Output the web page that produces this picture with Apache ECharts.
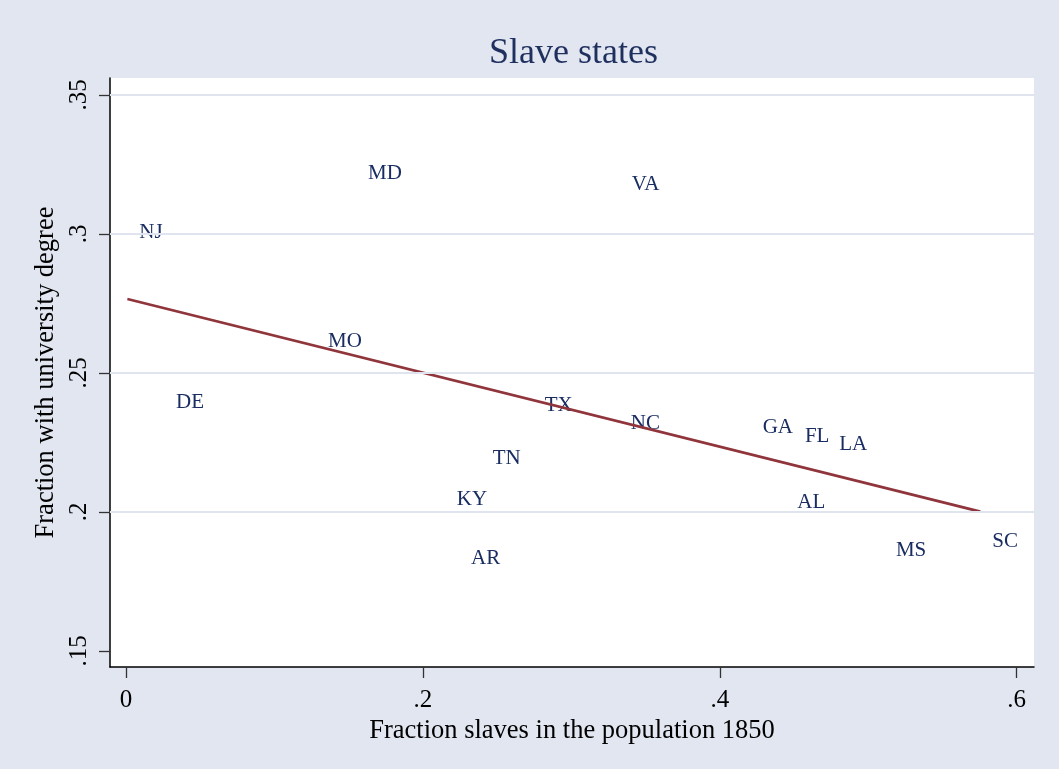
<!DOCTYPE html>
<html>
<head>
<meta charset="utf-8">
<script src="https://cdn.jsdelivr.net/npm/echarts/dist/echarts.min.js"></script>
<style>
html,body{margin:0;padding:0;background:#e1e6f0;}
#chart{width:1059px;height:769px;}
</style>
</head>
<body>
<div id="chart"></div>
<script>
// ---- data ----
const states = ["NJ","MD","MO","DE","TX","NC","TN","KY","AR","GA","FL","LA","AL","MS","SC","VA"];
const slaveFraction = [0.0009,0.155,0.128,0.0256,0.274,0.332,0.239,0.2147,0.2243,0.4208,0.4493,0.4724,0.4441,0.5106,0.5755,0.3326];
const degreeFraction = [0.3004,0.3219,0.2612,0.2392,0.2383,0.2317,0.2191,0.2043,0.1831,0.2302,0.2270,0.2241,0.2033,0.1860,0.1892,0.3179];
const fitX = [0.0009, 0.5755];
const fitY = [0.2766, 0.2001];
const xTicks = [0, 0.2, 0.4, 0.6];
const xTickLabels = ["0", ".2", ".4", ".6"];
const yTicks = [0.15, 0.2, 0.25, 0.3, 0.35];
const yTickLabels = [".15", ".2", ".25", ".3", ".35"];
const yGrid = [0.2, 0.25, 0.3, 0.35];

const FONT = '"Liberation Serif","Times New Roman",serif';
function lab(vals, labels){
  return function(v){
    const i = vals.findIndex(t => Math.abs(t - v) < 1e-9);
    return i >= 0 ? labels[i] : '';
  };
}

const chart = echarts.init(document.getElementById('chart'), null, {renderer:'canvas'});
const option = {
  backgroundColor: '#e1e6f0',
  animation: false,
  title: {
    text: 'Slave states',
    left: 484, top: 31,
    textStyle: {fontFamily: FONT, fontSize: 36, fontWeight: 'normal', color: '#1f2f5e'}
  },
  grid: {left: 110, right: 25, top: 78, bottom: 102, show: true, backgroundColor: '#ffffff', borderWidth: 0},
  xAxis: {
    type: 'value', min: -0.0108, max: 0.6117,
    name: 'Fraction slaves in the population 1850',
    nameLocation: 'middle', nameGap: 41,
    nameTextStyle: {fontFamily: FONT, fontSize: 26.5, color: '#000'},
    axisLine: {show: true, onZero: false, lineStyle: {color: '#000', width: 1.5}},
    axisTick: {show: true, customValues: xTicks, length: 11, lineStyle: {color: '#333', width: 1.3}},
    axisLabel: {customValues: xTicks, formatter: lab(xTicks, xTickLabels), margin: 21,
      fontFamily: FONT, fontSize: 25, color: '#000'},
    splitLine: {show: false}
  },
  yAxis: {
    type: 'value', min: 0.1442, max: 0.3561,
    name: 'Fraction with university degree',
    nameLocation: 'middle', nameGap: 47,
    nameTextStyle: {fontFamily: FONT, fontSize: 26.5, color: '#000'},
    axisLine: {show: true, onZero: false, lineStyle: {color: '#000', width: 1.5}},
    axisTick: {show: true, customValues: yTicks, length: 11, lineStyle: {color: '#333', width: 1.3}},
    axisLabel: {customValues: yTicks, formatter: lab(yTicks, yTickLabels), rotate: 90, margin: 18,
      fontFamily: FONT, fontSize: 25, color: '#000'},
    splitLine: {show: false}
  },
  series: [
    {
      type: 'scatter', data: [], z: 1, silent: true,
      markLine: {
        silent: true, symbol: ['none', 'none'], label: {show: false},
        lineStyle: {color: '#dfe4ee', width: 2, type: 'solid'},
        data: yGrid.map(v => ({yAxis: v}))
      }
    },
    {
      type: 'scatter', z: 2, silent: true,
      symbolSize: 1,
      itemStyle: {color: 'rgba(0,0,0,0)'},
      data: states.map((s, i) => ({name: s, value: [slaveFraction[i], degreeFraction[i]]})),
      label: {show: true, position: 'right', distance: 11.5, formatter: '{b}',
        fontFamily: FONT, fontSize: 21, color: '#1a2d62', opacity: 1}
    },
    {
      type: 'line', z: 3, silent: true, symbol: 'none',
      data: fitX.map((x, i) => [x, fitY[i]]),
      lineStyle: {color: '#90353b', width: 2.7}
    }
  ]
};
chart.setOption(option);
</script>
</body>
</html>
